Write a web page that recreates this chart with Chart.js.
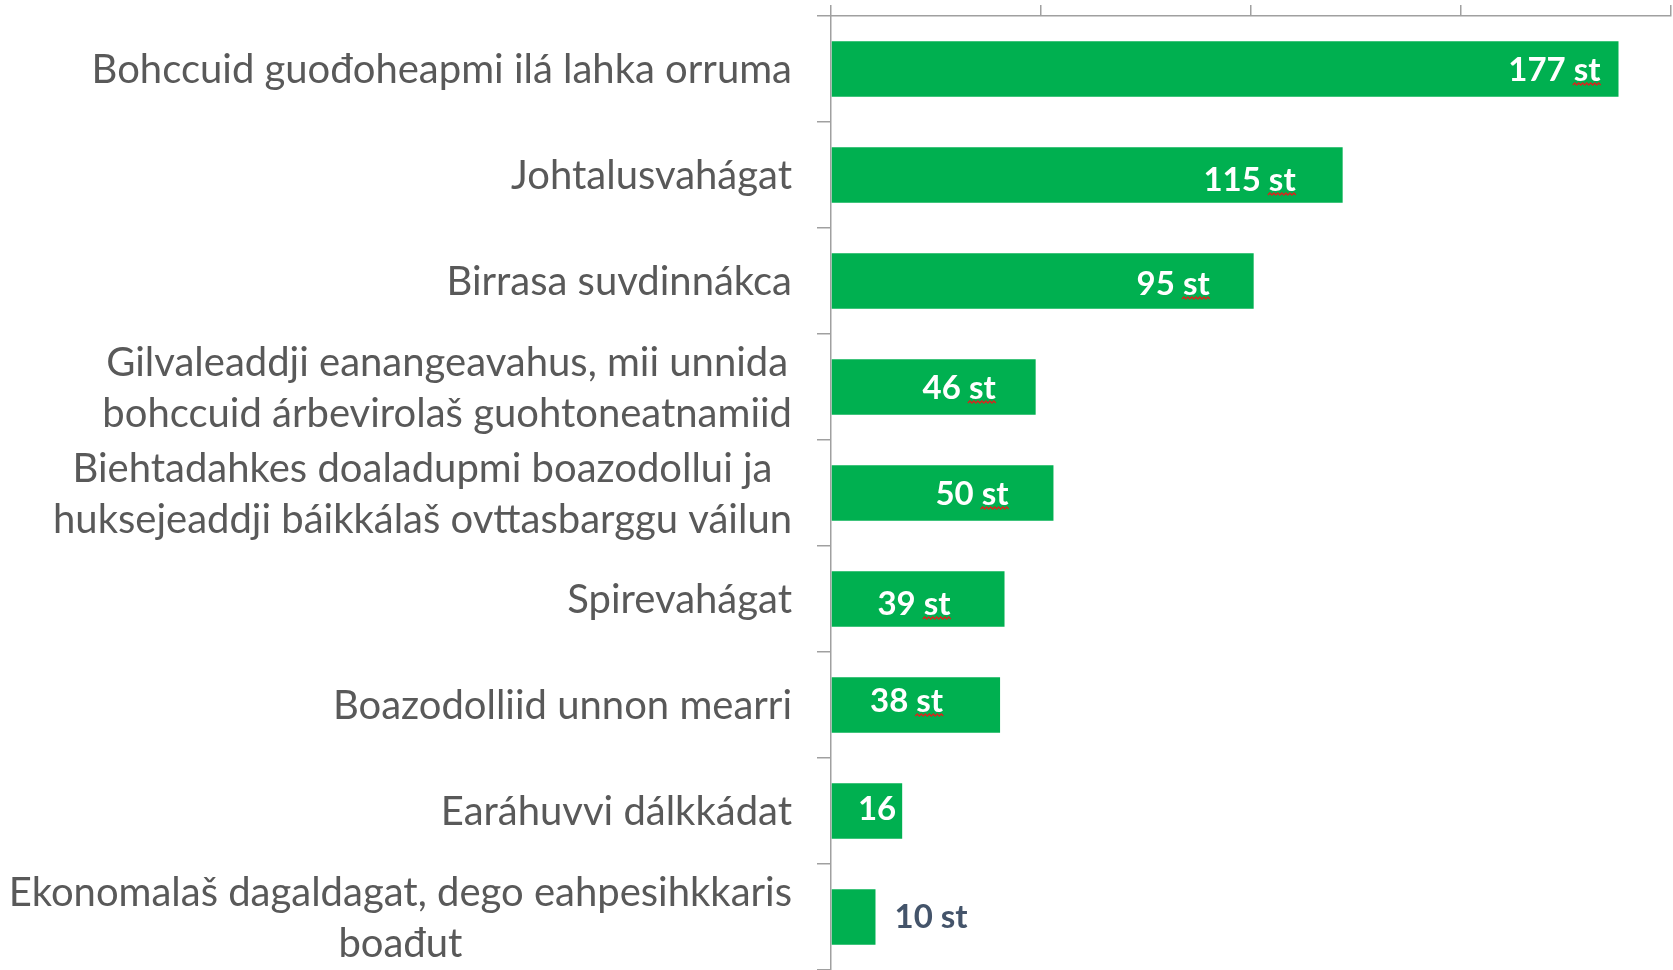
<!DOCTYPE html>
<html>
<head>
<meta charset="utf-8">
<script src="https://cdn.jsdelivr.net/npm/chart.js@4"></script>
<style>
  html, body { margin: 0; padding: 0; background: #ffffff; }
  canvas { display: block; }
</style>
</head>
<body>
<canvas id="c" width="1673" height="970"></canvas>
<script>
// ---- data ----
const categories = [
  ['Bohccuid guođoheapmi ilá lahka orruma'],
  ['Johtalusvahágat'],
  ['Birrasa suvdinnákca'],
  ['Gilvaleaddji eanangeavahus, mii unnida', 'bohccuid árbevirolaš guohtoneatnamiid'],
  ['Biehtadahkes doaladupmi boazodollui ja', 'huksejeaddji báikkálaš ovttasbarggu váilun'],
  ['Spirevahágat'],
  ['Boazodolliid unnon mearri'],
  ['Earáhuvvi dálkkádat'],
  ['Ekonomalaš dagaldagat, dego eahpesihkkaris', 'boađut']
];
const values = [177, 115, 95, 46, 50, 39, 38, 16, 10];
const valueLabels = ['177 st', '115 st', '95 st', '46 st', '50 st', '39 st', '38 st', '16', '10 st'];
const axisTicks = [0, 47.2, 94.4, 141.6, 188.8];

// ---- label placement (style) ----
const labelInset = [18, 47, 44, 40, 45, 54, 57, 6, -19]; // >0 inside from bar end, <0 outside
const labelShift = [0, 4, 2, 0, 0, 4, -5, -3, -1];

const GREEN = '#00b050';
const AXIS = '#a0a0a0';
const TEXT = '#595959';
const FONT = 'Lato, "Open Sans", sans-serif';

const catLabelPlugin = {
  id: 'catLabels',
  afterDraw(chart) {
    const ctx = chart.ctx;
    const y = chart.scales.y;
    const rightEdge = 792;
    const lh = 51;
    ctx.save();
    ctx.font = '40px ' + FONT;
    ctx.fillStyle = TEXT;
    ctx.textAlign = 'center';
    ctx.textBaseline = 'alphabetic';
    categories.forEach((lines, i) => {
      const yc = y.getPixelForValue(i);
      const maxW = Math.max(...lines.map(l => ctx.measureText(l).width));
      const cx = rightEdge - maxW / 2;
      const y0 = yc - (lines.length - 1) * lh / 2;
      lines.forEach((l, k) => {
        ctx.fillText(l, cx, y0 + k * lh + 14);
      });
    });
    ctx.restore();
  }
};

const valueLabelPlugin = {
  id: 'valueLabels',
  afterDatasetsDraw(chart) {
    const ctx = chart.ctx;
    const meta = chart.getDatasetMeta(0);
    ctx.save();
    ctx.font = 'bold 33px ' + FONT;
    ctx.textBaseline = 'alphabetic';
    meta.data.forEach((bar, i) => {
      const txt = valueLabels[i];
      const inset = labelInset[i];
      const by = bar.y + labelShift[i] + 12;
      let x0;
      const w = ctx.measureText(txt).width;
      if (inset >= 0) {
        ctx.fillStyle = '#ffffff';
        x0 = bar.x - inset - w;
      } else {
        ctx.fillStyle = '#44546a';
        x0 = bar.x - inset;
      }
      ctx.textAlign = 'left';
      ctx.fillText(txt, x0, by);
      // spell-check squiggle under "st" on inside labels
      if (inset >= 0 && txt.endsWith('st')) {
        const wst = ctx.measureText('st').width;
        const sx = x0 + w - wst - 1;
        const ex = x0 + w + 1;
        const sy = by + 4;
        ctx.beginPath();
        ctx.strokeStyle = '#e0201b';
        ctx.lineWidth = 1.3;
        let up = true;
        ctx.moveTo(sx, sy);
        for (let x = sx + 2; x <= ex; x += 2) {
          ctx.lineTo(x, up ? sy - 2 : sy);
          up = !up;
        }
        ctx.stroke();
      }
    });
    ctx.restore();
  }
};

new Chart(document.getElementById('c'), {
  type: 'bar',
  data: {
    labels: categories,
    datasets: [{
      data: values,
      backgroundColor: GREEN,
      borderWidth: 0,
      barPercentage: 0.525,
      categoryPercentage: 1.0
    }]
  },
  options: {
    indexAxis: 'y',
    responsive: false,
    animation: false,
    devicePixelRatio: 1,
    layout: { padding: { top: 0, right: 2, bottom: 0, left: 0 } },
    plugins: { legend: { display: false }, tooltip: { enabled: false } },
    scales: {
      x: {
        position: 'top',
        min: 0,
        max: axisTicks[axisTicks.length - 1],
        afterBuildTicks(scale) { scale.ticks = axisTicks.map(v => ({ value: v })); },
        afterFit(scale) { scale.height = 16; },
        ticks: { display: false },
        grid: { drawOnChartArea: false, drawTicks: true, tickLength: 11, color: AXIS, lineWidth: 1.5 },
        border: { display: true, color: AXIS, width: 1.5 }
      },
      y: {
        afterFit(scale) { scale.width = 831; },
        ticks: { display: false },
        grid: { offset: true, drawOnChartArea: false, drawTicks: true, tickLength: 14, color: AXIS, lineWidth: 1.5 },
        border: { display: true, color: AXIS, width: 1.5 }
      }
    }
  },
  plugins: [catLabelPlugin, valueLabelPlugin]
});
</script>
</body>
</html>
